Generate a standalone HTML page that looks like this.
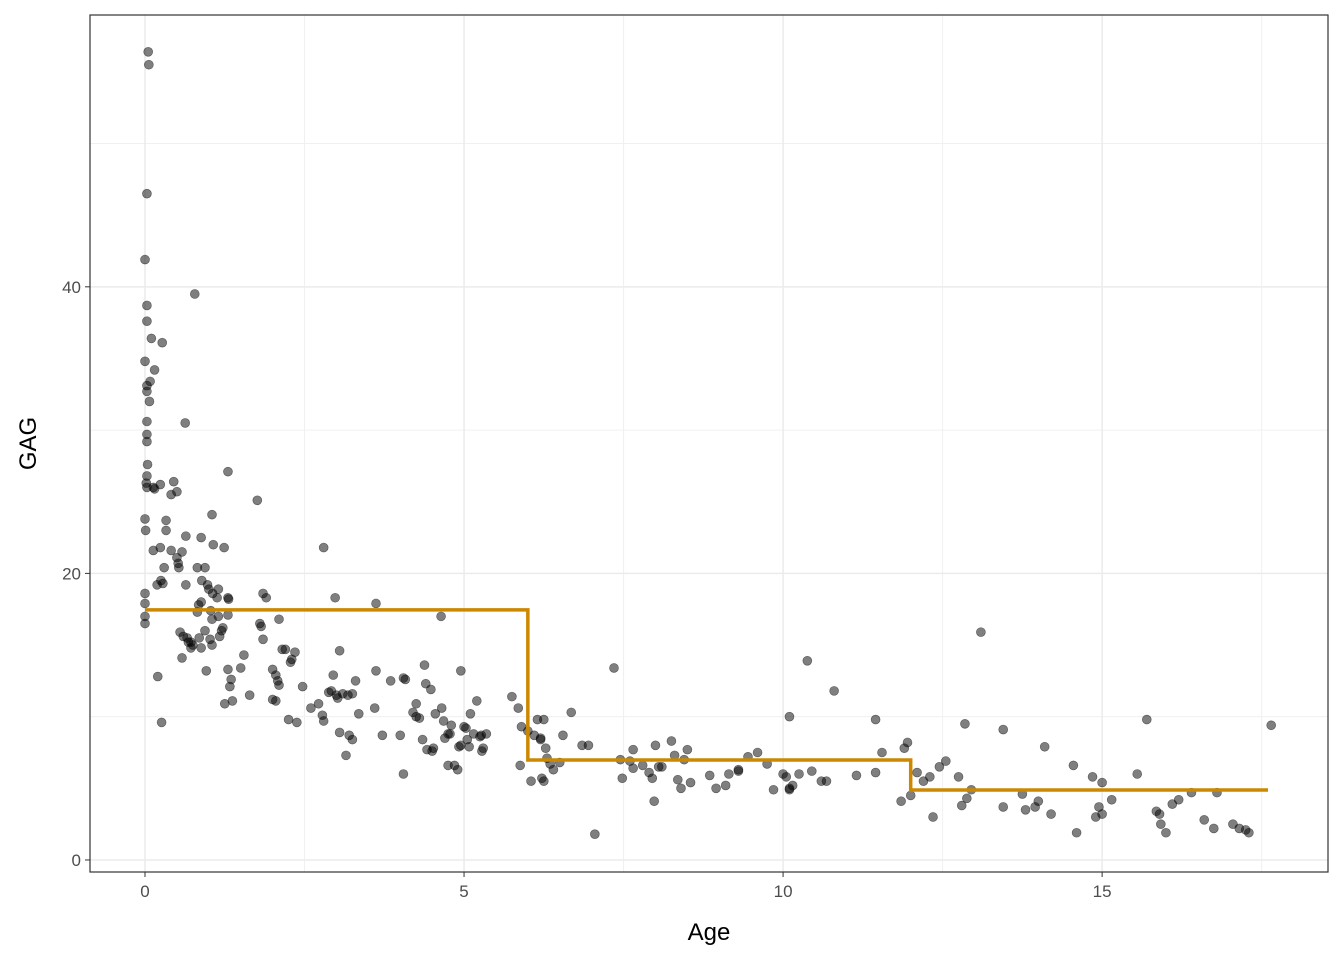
<!DOCTYPE html>
<html><head><meta charset="utf-8"><style>
html,body{margin:0;padding:0;background:#fff;}
svg{display:block;font-family:"Liberation Sans",Arial,sans-serif;}
</style></head><body>
<svg id="chart" width="1344" height="960"></svg>
<script>
const ages=[0.05,0.06,0.03,0,0.03,0.03,0.1,0,0.15,0.08,0.03,0.03,0.07,0.03,0.03,0.03,0.04,0.03,0.02,0.03,0,0.01,0,0,0,0,
0.13,0.24,0.27,0.45,0.5,0.41,0.33,0.33,0.13,0.24,0.41,0.3,0.25,0.28,0.19,0.2,0.26,0.15,
0.63,0.5,0.58,0.52,0.53,0.64,0.88,0.82,0.94,0.64,0.89,0.98,0.78,0.82,0.84,0.88,0.55,0.6,0.66,0.72,0.75,0.58,0.72,0.85,0.88,0.94,0.96,0.68,
1.07,1.24,1.3,1.05,1.0,1.06,1.15,1.13,1.3,1.31,1.03,1.15,1.3,1.05,1.22,1.2,1.05,1.02,1.3,1.35,1.33,1.25,1.37,1.5,1.55,1.64,1.17,
1.76,1.85,1.9,1.8,1.82,1.85,2.1,2.0,2.05,2.08,2.1,2.0,2.05,2.3,2.35,2.2,2.15,2.28,2.25,2.38,2.47,
2.8,2.98,2.6,2.72,2.78,2.8,2.88,2.92,2.95,3.0,3.05,3.1,3.18,3.25,3.3,3.05,3.15,3.2,3.25,3.35,3.02,
3.62,3.62,3.6,3.72,3.85,4.0,4.05,4.08,4.05,4.2,4.25,4.3,4.35,4.38,4.4,4.42,4.48,4.5,4.52,4.55,4.25,
4.64,4.65,4.68,4.7,4.75,4.78,4.75,4.8,4.85,4.9,4.92,4.95,5.0,5.03,5.05,5.08,5.1,5.15,5.2,5.25,5.28,5.3,5.27,5.35,4.95,
5.75,5.85,5.88,5.9,6.0,6.05,6.1,6.15,6.2,6.22,6.25,6.25,6.28,6.3,6.35,6.4,6.2,6.5,6.55,6.68,6.85,7.05,6.95,
7.35,7.45,7.48,7.6,7.65,7.65,7.9,7.95,8.0,7.98,8.05,8.1,8.25,8.3,8.35,8.4,8.45,8.5,8.55,7.8,
8.85,8.95,9.1,9.15,9.3,9.3,9.45,9.6,9.85,9.75,10.0,10.05,10.1,10.1,10.1,10.15,10.25,10.38,10.45,10.6,10.68,10.8,11.15,11.45,11.45,11.55,11.85,11.9,11.95,12.0,12.1,12.2,12.3,12.35,12.45,12.55,12.75,12.8,12.85,12.88,12.95,13.1,13.45,13.45,13.75,13.8,13.95,14.0,14.1,14.2,14.55,14.6,14.85,14.9,14.95,15.0,15.0,15.15,15.55,15.7,15.85,15.9,15.92,16.0,16.1,16.2,16.4,16.6,16.75,16.8,17.05,17.15,17.25,17.3,17.65];
const gags=[56.4,55.5,46.5,41.9,38.7,37.6,36.4,34.8,34.2,33.4,33.1,32.7,32.0,30.6,29.7,29.2,27.6,26.8,26.3,26.0,23.8,23.0,18.6,17.9,17.0,16.5,
26,26.2,36.1,26.4,25.7,25.5,23.7,23.0,21.6,21.8,21.6,20.4,19.5,19.3,19.2,12.8,9.6,25.9,
30.5,21.1,21.5,20.7,20.4,22.6,22.5,20.4,20.4,19.2,19.5,19.2,39.5,17.3,17.8,18.0,15.9,15.6,15.5,15.2,15.0,14.1,14.8,15.5,14.8,16.0,13.2,15.2,
22.0,21.8,27.1,24.1,18.9,18.6,18.9,18.3,18.3,18.2,17.4,17.0,17.1,16.8,16.2,16.0,15.0,15.4,13.3,12.6,12.1,10.9,11.1,13.4,14.3,11.5,15.6,
25.1,18.6,18.3,16.5,16.3,15.4,16.8,13.3,12.9,12.5,12.2,11.2,11.1,14.0,14.5,14.7,14.7,13.8,9.8,9.6,12.1,
21.8,18.3,10.6,10.9,10.1,9.7,11.7,11.8,12.9,11.5,14.6,11.6,11.5,11.6,12.5,8.9,7.3,8.7,8.4,10.2,11.3,
17.9,13.2,10.6,8.7,12.5,8.7,12.7,12.6,6.0,10.3,10.9,9.9,8.4,13.6,12.3,7.7,11.9,7.6,7.8,10.2,10.0,
17.0,10.6,9.7,8.5,8.8,8.8,6.6,9.4,6.6,6.3,7.9,13.2,9.3,9.2,8.4,7.9,10.2,8.8,11.1,8.6,7.6,7.8,8.7,8.8,8.0,
11.4,10.6,6.6,9.3,9.0,5.5,8.7,9.8,8.5,5.7,5.5,9.8,7.8,7.1,6.7,6.3,8.4,6.8,8.7,10.3,8.0,1.8,8.0,
13.4,7.0,5.7,6.9,7.7,6.4,6.1,5.7,8.0,4.1,6.5,6.5,8.3,7.3,5.6,5.0,7.0,7.7,5.4,6.6,
5.9,5.0,5.2,6.0,6.3,6.2,7.2,7.5,4.9,6.7,6.0,5.8,5.0,4.9,10.0,5.2,6.0,13.9,6.2,5.5,5.5,11.8,5.9,9.8,6.1,7.5,4.1,7.8,8.2,4.5,6.1,5.5,5.8,3.0,6.5,6.9,5.8,3.8,9.5,4.3,4.9,15.9,9.1,3.7,4.6,3.5,3.7,4.1,7.9,3.2,6.6,1.9,5.8,3.0,3.7,5.4,3.2,4.2,6.0,9.8,3.4,3.2,2.5,1.9,3.9,4.2,4.7,2.8,2.2,4.7,2.5,2.2,2.1,1.9,9.4];
const stepBreaks=[0,6,12,17.6];
const stepValues=[17.45,6.98,4.88];
const xTicks=[0,5,10,15];
const yTicks=[0,20,40];
const xMinor=[2.5,7.5,12.5,17.5];
const yMinor=[10,30,50];

const L=90,R=1328,T=15,B=872;
const xMin=-0.862,xMax=18.54,yMin=-0.84,yMax=58.97;
const X=v=>L+(v-xMin)/(xMax-xMin)*(R-L);
const Y=v=>B-(v-yMin)/(yMax-yMin)*(B-T);
const NS='http://www.w3.org/2000/svg';
const svg=document.getElementById('chart');
function mk(t,a,p){const e=document.createElementNS(NS,t);for(const k in a)e.setAttribute(k,a[k]);(p||svg).appendChild(e);return e;}

mk('rect',{x:L,y:T,width:R-L,height:B-T,fill:'#fff'});
xMinor.forEach(v=>{const e=mk('line',{x1:X(v),x2:X(v),y1:T,y2:B,stroke:'#f0f0f0','stroke-width':1});

});
yMinor.forEach(v=>{const e=mk('line',{x1:L,x2:R,y1:Y(v),y2:Y(v),stroke:'#f0f0f0','stroke-width':1});

});
xTicks.forEach(v=>{const e=mk('line',{x1:X(v),x2:X(v),y1:T,y2:B,stroke:'#ebebeb','stroke-width':1.5});


mk('line',{x1:X(v),x2:X(v),y1:B,y2:B+5,stroke:'#333','stroke-width':1});
const t=mk('text',{x:X(v),y:B+25,'text-anchor':'middle','font-size':17,fill:'#4d4d4d'});t.textContent=v;

});
yTicks.forEach(v=>{const e=mk('line',{x1:L,x2:R,y1:Y(v),y2:Y(v),stroke:'#ebebeb','stroke-width':1.5});


mk('line',{x1:L-5,x2:L,y1:Y(v),y2:Y(v),stroke:'#333','stroke-width':1});
const t=mk('text',{x:L-9,y:Y(v)+6,'text-anchor':'end','font-size':17,fill:'#4d4d4d'});t.textContent=v;

});

const pts=mk('g',{});


ages.forEach((a,i)=>{const c=mk('circle',{cx:X(a),cy:Y(gags[i]),r:4.5,fill:'#000','fill-opacity':0.5,stroke:'#000','stroke-opacity':0.5,'stroke-width':0.6},pts);

});

let d='';
stepValues.forEach((v,i)=>{d+=(i?'L':'M')+X(stepBreaks[i])+','+Y(v)+'L'+X(stepBreaks[i+1])+','+Y(v);});
const sl=mk('path',{d:d,fill:'none',stroke:'#cc8800','stroke-width':3.5});



const fr=mk('rect',{x:L,y:T,width:R-L,height:B-T,fill:'none',stroke:'#333','stroke-width':1.2});


const xt=mk('text',{x:(L+R)/2,y:940,'text-anchor':'middle','font-size':24,fill:'#000'});xt.textContent='Age';


const yt=mk('text',{x:0,y:0,'text-anchor':'middle','font-size':24,fill:'#000',transform:'translate(36,'+((T+B)/2)+') rotate(-90)'});yt.textContent='GAG';


</script>
</body></html>
